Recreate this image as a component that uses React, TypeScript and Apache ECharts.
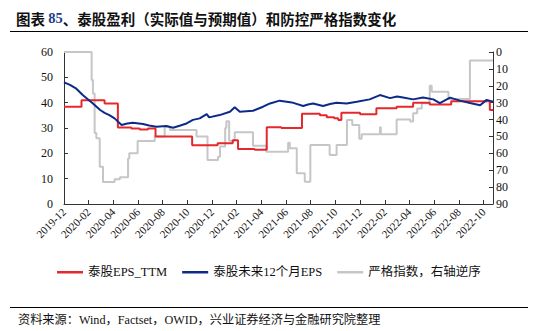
import React, { useEffect, useRef } from 'react';
import * as echarts from 'echarts';

const FONT = '"Liberation Serif", "Times New Roman", "Noto Sans CJK SC", serif';
const CJK_BOLD = '"Noto Sans CJK SC", "Liberation Serif", sans-serif';

// x-axis tick labels (every 2 months from 2019-12)
const tickLabels = [
  '2019-12', '2020-02', '2020-04', '2020-06', '2020-08', '2020-10', '2020-12',
  '2021-02', '2021-04', '2021-06', '2021-08', '2021-10', '2021-12',
  '2022-02', '2022-04', '2022-06', '2022-08', '2022-10',
];
const axisEndDate = '2022-10-25';

// 泰股EPS_TTM (change points, held until next change)
const ttmDates = [
  '2019-12-01', '2020-01-14', '2020-03-10', '2020-04-12', '2020-05-15', '2020-06-05',
  '2020-06-25', '2020-07-14', '2020-10-13', '2020-12-15', '2021-01-22', '2021-02-04',
  '2021-03-15', '2021-04-14', '2021-05-20', '2021-07-10', '2021-08-24', '2021-09-10',
  '2021-09-28', '2021-10-08', '2021-10-16', '2021-12-01', '2022-01-11', '2022-02-28',
  '2022-04-10', '2022-05-21', '2022-07-13', '2022-10-17', '2022-10-25',
];
const ttmValues = [
  38.4, 41.0, 39.7, 30.2, 29.8, 29.4,
  29.8, 26.6, 23.2, 24.0, 25.2, 21.7,
  21.4, 30.3, 30.0, 35.6, 35.0, 34.2,
  33.8, 33.2, 36.0, 35.4, 37.8, 38.4,
  40.0, 39.3, 40.6, 37.1, 37.1,
];

// 泰股未来12个月EPS
const fwdDates = [
  '2019-12-01', '2019-12-16', '2020-01-01', '2020-01-17', '2020-02-11', '2020-02-28',
  '2020-03-10', '2020-03-22', '2020-04-04', '2020-04-21', '2020-05-05', '2020-05-19',
  '2020-06-13', '2020-06-28', '2020-07-16', '2020-08-10', '2020-08-27', '2020-09-12',
  '2020-09-29', '2020-10-15', '2020-11-01', '2020-11-18', '2020-11-24', '2020-12-20',
  '2021-01-15', '2021-01-27', '2021-02-08', '2021-03-11', '2021-04-05', '2021-04-22',
  '2021-05-16', '2021-06-15', '2021-07-13', '2021-07-25', '2021-08-07', '2021-09-01',
  '2021-09-18', '2021-10-04', '2021-10-29', '2021-11-23', '2021-12-25', '2022-01-20',
  '2022-02-13', '2022-03-01', '2022-03-16', '2022-04-10', '2022-05-04', '2022-05-30',
  '2022-06-15', '2022-07-10', '2022-08-04', '2022-08-29', '2022-09-23', '2022-10-09',
  '2022-10-25',
];
const fwdValues = [
  48.0, 47.0, 45.5, 43.0, 39.7, 37.1,
  36.0, 35.1, 33.8, 31.2, 31.8, 32.1,
  31.6, 31.0, 30.5, 30.8, 30.1, 30.9,
  31.8, 33.2, 33.8, 35.5, 34.2, 35.1,
  36.4, 38.2, 36.4, 36.8, 38.4, 39.7,
  40.8, 40.1, 38.7, 39.3, 39.7, 38.7,
  39.5, 40.0, 39.7, 40.4, 41.3, 43.0,
  41.8, 42.4, 42.0, 41.3, 42.0, 41.3,
  39.8, 42.0, 40.8, 39.9, 39.0, 41.1,
  40.4,
];

// 严格指数 (right axis, inverted; change points)
const stringencyDates = [
  '2019-12-01', '2020-02-03', '2020-02-08', '2020-02-11', '2020-02-15', '2020-02-19',
  '2020-02-27', '2020-03-06', '2020-04-04', '2020-04-17', '2020-05-07', '2020-05-10',
  '2020-05-31', '2020-07-12', '2020-08-06', '2020-08-19', '2020-10-24', '2020-11-20',
  '2020-12-16', '2020-12-21', '2021-01-03', '2021-01-06', '2021-01-13', '2021-01-27',
  '2021-03-11', '2021-04-13', '2021-06-06', '2021-06-10', '2021-06-27', '2021-07-17',
  '2021-07-31', '2021-09-17', '2021-10-04', '2021-10-30', '2021-11-12', '2021-11-29',
  '2021-12-05', '2022-01-20', '2022-01-22', '2022-02-28', '2022-04-03', '2022-04-10',
  '2022-04-20', '2022-05-01', '2022-05-21', '2022-05-26', '2022-07-06', '2022-08-29',
  '2022-10-25',
];
const stringencyValues = [
  0, 0, 16.6, 24.5, 48, 51,
  68, 77, 75.4, 74.2, 63, 60,
  52.7, 50.1, 44.2, 46.2, 50.1, 64,
  62, 56, 45, 41, 52.5, 47.5,
  55.5, 59, 53.7, 57, 71.8, 76.8,
  55, 61, 55, 40.3, 43.2, 51.3,
  48.7, 44.6, 48.7, 40, 41.2, 36.3,
  33.4, 30.4, 20, 23.5, 27.9, 5.1,
  5.1,
];

function monthIndex(d: string): number {
  const [y, m, day] = d.split('-').map(Number);
  const dim = new Date(y, m, 0).getDate();
  return (y - 2019) * 12 + (m - 12) + (day - 1) / dim;
}

const pairs = (dates: string[], vals: number[]) => dates.map((d, i) => [monthIndex(d), vals[i]]);

const AXIS_COLOR = '#333';

export default function App() {
  const ref = useRef<HTMLDivElement>(null);
  useEffect(() => {
    if (!ref.current) return;
    const chart = echarts.init(ref.current, null, { renderer: 'svg' });
    const axisCommon = {
      axisLine: { show: true, lineStyle: { color: AXIS_COLOR, width: 1 } },
      axisTick: { show: true, inside: true, length: 4, lineStyle: { color: AXIS_COLOR } },
      splitLine: { show: false },
    };
    chart.setOption({
      animation: false,
      backgroundColor: '#fff',
      title: {
        text: '{a|图表 }{b|85}{a|、泰股盈利（实际值与预期值）和防控严格指数变化}',
        left: 11,
        top: 6,
        textStyle: {
          rich: {
            a: { fontFamily: CJK_BOLD, fontWeight: 'bold', fontSize: 14.5, color: '#111' },
            b: { fontFamily: FONT, fontWeight: 'bold', fontSize: 14.5, color: '#1f3c88' },
          },
        },
      },
      graphic: [
        { type: 'line', shape: { x1: 10, y1: 31.5, x2: 528, y2: 31.5 }, style: { stroke: '#000', lineWidth: 1 } },
        { type: 'line', shape: { x1: 10, y1: 307.5, x2: 528, y2: 307.5 }, style: { stroke: '#000', lineWidth: 1 } },
        {
          type: 'text', left: 18, top: 314,
          style: { text: '资料来源：Wind，Factset，OWID，兴业证券经济与金融研究院整理', font: `12.2px ${FONT}`, fill: '#111' },
        },
      ],
      legend: {
        left: 57,
        top: 266,
        padding: 0,
        icon: 'rect',
        itemWidth: 26,
        itemHeight: 2.5,
        itemGap: 15,
        textStyle: { fontFamily: FONT, fontSize: 12.5, color: '#111' },
        data: ['泰股EPS_TTM', '泰股未来12个月EPS', '严格指数，右轴逆序'],
      },
      grid: { left: 64, right: 47, top: 52, bottom: 127 },
      xAxis: {
        type: 'value',
        min: 0,
        max: monthIndex(axisEndDate),
        interval: 2,
        ...axisCommon,
        axisLabel: {
          rotate: 45,
          fontSize: 11,
          fontFamily: FONT,
          color: '#111',
          margin: 6,
          showMaxLabel: false,
          formatter: (v: number) => {
            const i = Math.round(v / 2);
            return Math.abs(v - i * 2) < 1e-6 && tickLabels[i] ? tickLabels[i] : '';
          },
        },
      },
      yAxis: [
        {
          type: 'value', min: 0, max: 60, interval: 10, position: 'left',
          ...axisCommon,
          axisLabel: { fontSize: 12, fontFamily: FONT, color: '#111', margin: 11 },
        },
        {
          type: 'value', min: 0, max: 90, interval: 10, position: 'right', inverse: true,
          ...axisCommon,
          axisLabel: { fontSize: 12, fontFamily: FONT, color: '#111', margin: 3 },
        },
      ],
      series: [
        {
          name: '泰股EPS_TTM', type: 'line', step: 'end', showSymbol: false, z: 3,
          data: pairs(ttmDates, ttmValues),
          lineStyle: { color: '#e5282c', width: 2 }, itemStyle: { color: '#e5282c' },
        },
        {
          name: '泰股未来12个月EPS', type: 'line', showSymbol: false, z: 4,
          data: pairs(fwdDates, fwdValues),
          lineStyle: { color: '#0c2a88', width: 2 }, itemStyle: { color: '#0c2a88' },
        },
        {
          name: '严格指数，右轴逆序', type: 'line', step: 'end', showSymbol: false, z: 2, yAxisIndex: 1,
          data: pairs(stringencyDates, stringencyValues),
          lineStyle: { color: '#c6c6c6', width: 2 }, itemStyle: { color: '#c6c6c6' },
        },
      ],
    });
    return () => chart.dispose();
  }, []);
  return <div ref={ref} style={{ position: 'absolute', left: 0, top: 0, width: 540, height: 331 }} />;
}
